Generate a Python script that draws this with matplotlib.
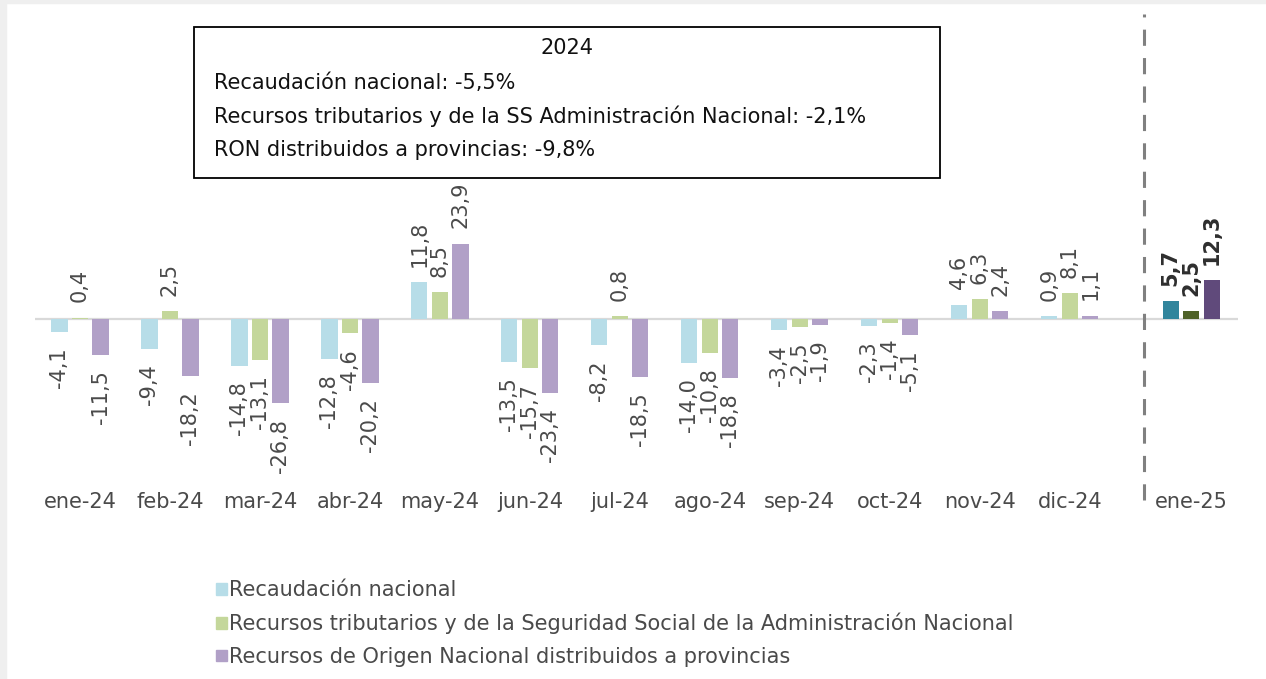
import matplotlib.pyplot as plt
import matplotlib.patches as mpatches
import numpy as np

months = ["ene-24", "feb-24", "mar-24", "abr-24", "may-24", "jun-24", "jul-24",
          "ago-24", "sep-24", "oct-24", "nov-24", "dic-24", "ene-25"]
recaudacion = [-4.1, -9.4, -14.8, -12.8, 11.8, -13.5, -8.2, -14.0, -3.4, -2.3, 4.6, 0.9, 5.7]
tributarios = [0.4, 2.5, -13.1, -4.6, 8.5, -15.7, 0.8, -10.8, -2.5, -1.4, 6.3, 8.1, 2.5]
ron = [-11.5, -18.2, -26.8, -20.2, 23.9, -23.4, -18.5, -18.8, -1.9, -5.1, 2.4, 1.1, 12.3]

series_names = ["Recaudación nacional",
                "Recursos tributarios y de la Seguridad Social de la Administración Nacional",
                "Recursos de Origen Nacional distribuidos a provincias"]
light_colors = ["#b7dde8", "#c4d79b", "#b1a0c7"]
dark_colors = ["#31859c", "#4f6228", "#604a7b"]

box_title = "2024"
box_lines = ["Recaudación nacional: -5,5%",
             "Recursos tributarios y de la SS Administración Nacional: -2,1%",
             "RON distribuidos a provincias: -9,8%"]

plt.rcParams["font.family"] = ["DejaVu Sans"]
txt = "#4a4a4a"
fs = 15

W, H = 1266, 679
fig = plt.figure(figsize=(W / 100, H / 100), dpi=100)

# light grey edge strips
fig.patches.append(mpatches.Rectangle((0, 0), 6 / W, 1, transform=fig.transFigure,
                                      color="#efefef", zorder=0))
fig.patches.append(mpatches.Rectangle((0, 1 - 3 / H), 1, 3 / H, transform=fig.transFigure,
                                      color="#efefef", zorder=0))

ax_l, ax_r, ax_top, ax_bot = 35, 1238, 193, 476.5
ax = fig.add_axes([ax_l / W, 1 - ax_bot / H, (ax_r - ax_l) / W, (ax_bot - ax_top) / H])

x = np.append(np.arange(12), 12.35)
width = 0.18
step = 0.228
is_last = np.arange(len(months)) == len(months) - 1

for i, vals in enumerate([recaudacion, tributarios, ron]):
    cols = [dark_colors[i] if last else light_colors[i] for last in is_last]
    xs = x + (i - 1) * step
    ax.bar(xs, vals, width, color=cols, zorder=2)
    for xi, v, last in zip(xs, vals, is_last):
        ax.annotate(f"{v:.1f}".replace(".", ","), (xi, v),
                    xytext=(0, 11 if v >= 0 else -11), textcoords="offset points",
                    rotation=90, ha="center", va="bottom" if v >= 0 else "top",
                    fontsize=fs, color="#2e2e2e" if last else txt,
                    fontweight="bold" if last else "normal")

ax.axhline(0, color="#d9d9d9", lw=1.6, zorder=1)
ax.set_xlim(-0.5, 12.87)
ax.set_ylim(-50, 40)
ax.set_xticks(x)
ax.set_xticklabels(months, fontsize=fs, color=txt)
ax.tick_params(axis="x", length=0, pad=11)
ax.set_yticks([])
for s in ax.spines.values():
    s.set_visible(False)

# dashed separator before ene-25
h_ax = ax_bot - ax_top
ax.axvline(11.83, ymin=-(500 - ax_bot) / h_ax, ymax=(ax_bot - 14) / h_ax,
           color="#808080", lw=2.2, linestyle=(0, (5.3, 4)), clip_on=False)

# summary box
fig.patches.append(mpatches.Rectangle((194 / W, 1 - 178 / H), (940 - 194) / W, (178 - 27) / H,
                                      transform=fig.transFigure, fill=False,
                                      edgecolor="black", lw=1.3, zorder=5))
fig.text(567 / W, 1 - 48 / H, box_title, ha="center", va="center", fontsize=fs, color="#111111")
for k, line in enumerate(box_lines):
    fig.text(214 / W, 1 - (83 + 33.5 * k) / H, line, ha="left", va="center",
             fontsize=fs, color="#111111")

# legend
handles = [mpatches.Patch(color=c) for c in light_colors]
fig.legend(handles, series_names, loc="upper left", bbox_to_anchor=(208 / W, 1 - 572 / H),
           frameon=False, prop={"size": fs}, handlelength=0.5, handleheight=0.5,
           handletextpad=0.12, labelspacing=0.6, labelcolor=txt, borderaxespad=0)

fig.savefig("out.png", dpi=100, facecolor="white")
